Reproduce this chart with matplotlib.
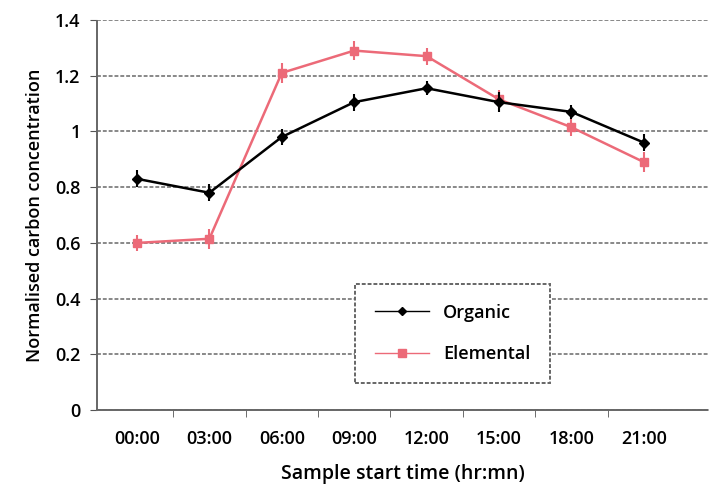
import matplotlib.pyplot as plt
from matplotlib.lines import Line2D

# data
times = ['00:00', '03:00', '06:00', '09:00', '12:00', '15:00', '18:00', '21:00']
organic = [0.83, 0.78, 0.98, 1.105, 1.155, 1.105, 1.07, 0.96]
organic_err = [0.03, 0.03, 0.03, 0.03, 0.025, 0.035, 0.025, 0.03]
elemental = [0.60, 0.615, 1.21, 1.29, 1.27, 1.115, 1.015, 0.89]
elemental_err = [0.03, 0.035, 0.035, 0.035, 0.03, 0.035, 0.03, 0.035]

pink = '#ec6a78'
plt.rcParams['font.family'] = ['Open Sans', 'DejaVu Sans']
fs = 13

fig = plt.figure(figsize=(7.09, 4.86), dpi=100)
ax = fig.add_axes([0.137, 0.156, 0.863, 0.803])

x = list(range(len(times)))
ax.errorbar(x, organic, yerr=organic_err, color='black', marker='D', markersize=5,
            linewidth=1.8, elinewidth=1.5, capsize=0, zorder=4, label='Organic')
ax.errorbar(x, elemental, yerr=elemental_err, color=pink, marker='s', markersize=6,
            linewidth=1.8, elinewidth=1.5, capsize=0, zorder=3, label='Elemental')

ax.set_ylim(0, 1.4)
ax.set_xlim(-0.55, 7.9)
ax.set_yticks([0, 0.2, 0.4, 0.6, 0.8, 1, 1.2, 1.4])
ax.set_yticklabels(['0', '0.2', '0.4', '0.6', '0.8', '1', '1.2', '1.4'],
                   fontsize=fs, fontweight='semibold')
ax.set_xticks(x)
ax.set_xticklabels(times, fontsize=fs, fontweight='semibold')
ax.set_xticks([i + 0.5 for i in range(7)], minor=True)
ax.tick_params(axis='x', which='major', length=0, pad=14)
ax.tick_params(axis='x', which='minor', length=5, color='#555555')
ax.tick_params(axis='y', length=5, color='#555555', pad=7)

ax.grid(axis='y', color='#888888', linestyle=(0, (2, 1)), linewidth=1.4)
ax.set_axisbelow(True)
for s in ['top', 'right']:
    ax.spines[s].set_visible(False)
for s in ['left', 'bottom']:
    ax.spines[s].set_color('#666666')
    ax.spines[s].set_linestyle((0, (2, 1)))
    ax.spines[s].set_linewidth(1.4)

ax.set_ylabel('Normalised carbon concentration', fontsize=fs, fontweight='semibold', labelpad=8)
ax.set_xlabel('Sample start time (hr:mn)', fontsize=fs + 1, fontweight='semibold', labelpad=12)

handles = [Line2D([], [], color='black', marker='D', markersize=4, linewidth=1),
           Line2D([], [], color=pink, marker='s', markersize=6, linewidth=1)]
leg = ax.legend(handles, ['Organic', 'Elemental'], loc='upper left',
                bbox_to_anchor=(0.421, 0.324), fancybox=False, framealpha=1,
                edgecolor='#666666', borderpad=1.1, labelspacing=1.3,
                handlelength=3, borderaxespad=0,
                prop={'weight': 'semibold', 'size': fs})
leg.get_frame().set_linestyle((0, (2, 1)))
leg.get_frame().set_linewidth(1.4)

fig.savefig('out.png', dpi=100)
